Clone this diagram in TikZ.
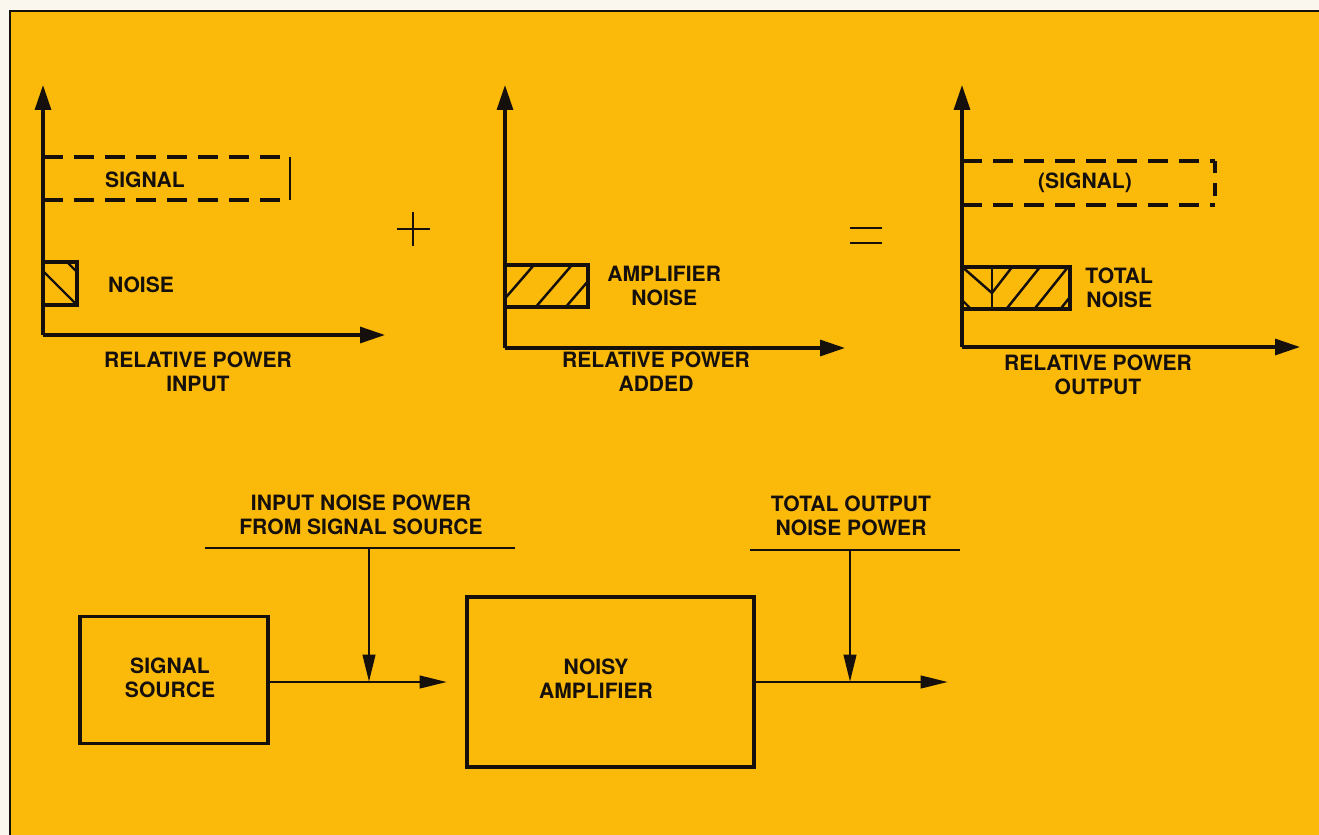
\documentclass[tikz,border=0pt]{standalone}
\usepackage{fontspec}
\setmainfont{TeX Gyre Heros}
\usetikzlibrary{arrows.meta}
\definecolor{bgy}{RGB}{251,186,10}
\definecolor{paper}{RGB}{250,248,238}
\definecolor{ink}{RGB}{22,16,12}
\begin{document}
\begin{tikzpicture}[x=0.02cm,y=-0.02cm,
  ln/.style={draw=ink, line width=1.6pt},
  axis/.style={draw=ink, line width=1.8pt, -{Triangle[length=0.5cm,width=0.32cm]}},
  conn/.style={draw=ink, line width=1.6pt, -{Triangle[length=0.55cm,width=0.25cm]}},
  dsh/.style={draw=ink, line width=1.8pt, dash pattern=on 0.4cm off 0.22cm},
  hatch/.style={draw=ink, line width=1.4pt},
  blk/.style={draw=ink, line width=1.8pt, rectangle, inner sep=0pt},
  lbl/.style={font=\fontsize{12}{13.7}\selectfont\bfseries, text=ink, align=center, inner sep=0pt},
  sym/.style={draw=ink, line width=1pt}]
\useasboundingbox (0,0) rectangle (1319,835);
% background (drawn past the page edge so no sliver stays unpainted)
\fill[paper] (-10,-10) rectangle (1340,850);
\fill[bgy] (10,11) rectangle (1340,850);
\draw[ink, line width=1pt] (10,850) -- (10,11) -- (1340,11);

% ---------- graph 1 ----------
\coordinate (o1) at (43,335);
\coordinate (y1) at (43,85);
\coordinate (x1) at (385,335);
\draw[axis] (o1) -- (y1);
\draw[axis] (o1) -- (x1);
\coordinate (s1a) at (43,157);
\coordinate (s1b) at (290,157);
\coordinate (s1c) at (290,200);
\coordinate (s1d) at (43,200);
\draw[dsh] (s1a) -- (s1b);
\draw[dsh] (s1d) -- (s1c);
\draw[ln] (s1b) -- (s1c);
\node[lbl] (sig1) at (145,180) {SIGNAL};
\node[blk, minimum width=0.68cm, minimum height=0.86cm] (n1) at (60,283.5) {};
\begin{scope}
  \clip (n1.south west) rectangle (n1.north east);
  \draw[hatch] (30,258) -- (80,308);
  \draw[hatch] (62,257) -- (82,277);
\end{scope}
\node[lbl] (noise1) at (141,285) {NOISE};
\node[lbl] (cap1) at (198,372) {RELATIVE POWER\\INPUT};

% plus
\coordinate (pl) at (397,229); \coordinate (pr) at (430,229);
\coordinate (pt) at (413,212); \coordinate (pb) at (413,246);
\draw[sym] (pl) -- (pr);
\draw[sym] (pt) -- (pb);

% ---------- graph 2 ----------
\coordinate (o2) at (505,348);
\coordinate (y2) at (505,85);
\coordinate (x2) at (845,348);
\draw[axis] (o2) -- (y2);
\draw[axis] (o2) -- (x2);
\node[blk, minimum width=1.66cm, minimum height=0.84cm] (n2) at (546.5,286) {};
\begin{scope}
  \clip (n2.south west) rectangle (n2.north east);
  \draw[hatch] (540,258) -- (495,310);
  \draw[hatch] (578,258) -- (528,316);
  \draw[hatch] (608,258) -- (558,316);
\end{scope}
\node[lbl, anchor=west] (amp1) at (607,285.5) {AMPLIFIER\\NOISE};
\node[lbl] (cap2) at (656,372) {RELATIVE POWER\\ADDED};

% equals
\coordinate (e1l) at (850,228); \coordinate (e1r) at (882,228);
\coordinate (e2l) at (850,243); \coordinate (e2r) at (882,243);
\draw[sym] (e1l) -- (e1r);
\draw[sym] (e2l) -- (e2r);

% ---------- graph 3 ----------
\coordinate (o3) at (962,347);
\coordinate (y3) at (962,85);
\coordinate (x3) at (1300,347);
\draw[axis] (o3) -- (y3);
\draw[axis] (o3) -- (x3);
\coordinate (s3a) at (962,161);
\coordinate (s3b) at (1215,161);
\coordinate (s3c) at (1215,205);
\coordinate (s3d) at (962,205);
\draw[dsh] (s3a) -- (s3b);
\draw[dsh] (s3d) -- (s3c);
\draw[draw=ink, line width=1.8pt, dash pattern=on 0.25cm off 0.2cm] (s3b) -- (s3c);
\node[lbl] (sig3) at (1085,183) {(SIGNAL)};
\node[blk, minimum width=2.16cm, minimum height=0.84cm] (n3) at (1016,288) {};
\begin{scope}
  \clip (n3.south west) rectangle (n3.north east);
  \draw[hatch] (992,262) -- (992,312);
  \draw[hatch] (960,265) -- (992,293);
  \draw[hatch] (1016,262) -- (992,293);
  \draw[hatch] (1044,262) -- (1004,312);
  \draw[hatch] (1072,262) -- (1032,312);
  \draw[hatch] (1074,292) -- (1058,312);
  \draw[hatch] (960,298) -- (974,312);
\end{scope}
\node[lbl, anchor=west] (tot3) at (1085,287.5) {TOTAL\\NOISE};
\node[lbl] (cap3) at (1098,375) {RELATIVE POWER\\OUTPUT};

% ---------- block diagram ----------
\node[blk, minimum width=3.76cm, minimum height=2.54cm] (ss) at (174,680) {};
\node[lbl] (sst) at (170,678) {SIGNAL\\SOURCE};
\node[blk, minimum width=5.74cm, minimum height=3.4cm] (amp) at (610.5,682) {};
\node[lbl] (ampt) at (596,678.5) {NOISY\\AMPLIFIER};

\coordinate (a1) at (447,682);
\coordinate (j1) at (369,682);
\coordinate (b1l) at (205,548);
\coordinate (b1r) at (515,548);
\coordinate (b1m) at (369,548);
\draw[ln] (b1l) -- (b1r);
\draw[conn] (ss.east |- a1) -- (a1);
\draw[conn] (b1m) -- (j1);
\node[lbl] (inl) at (361,515) {INPUT NOISE POWER\\FROM SIGNAL SOURCE};

\coordinate (a2) at (948,682);
\coordinate (j2) at (850,682);
\coordinate (b2l) at (750,550);
\coordinate (b2r) at (960,550);
\coordinate (b2m) at (850,550);
\draw[ln] (b2l) -- (b2r);
\draw[conn] (amp.east |- a2) -- (a2);
\draw[conn] (b2m) -- (j2);
\node[lbl] (outl) at (851,516) {TOTAL OUTPUT\\NOISE POWER};
\end{tikzpicture}
\end{document}
